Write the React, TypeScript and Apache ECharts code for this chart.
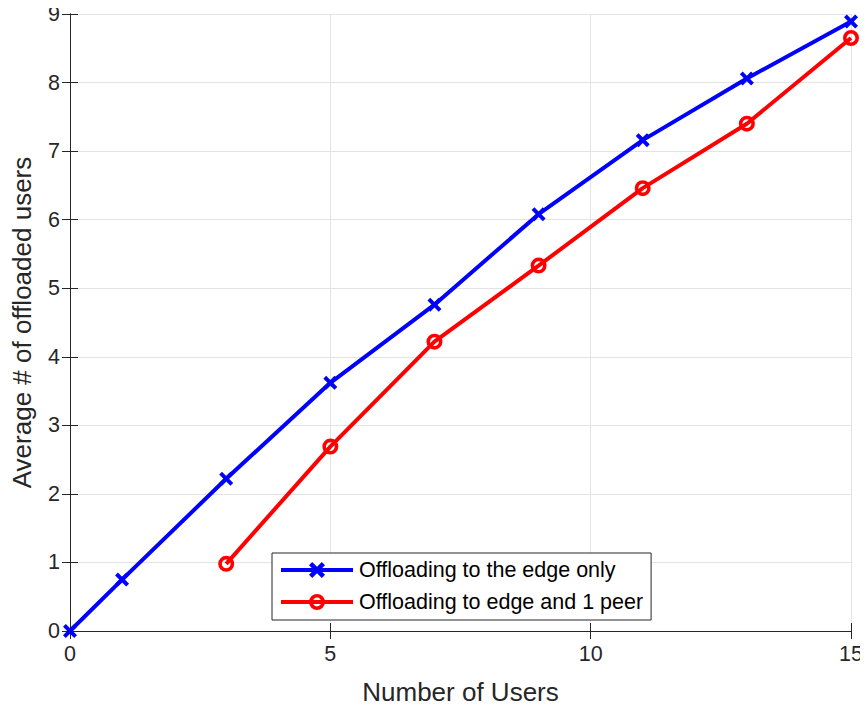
import React, { useEffect, useRef } from "react";
import * as echarts from "echarts";

const usersBlue = [0, 1, 3, 5, 7, 9, 11, 13, 15];
const edgeOnly = [0, 0.75, 2.22, 3.62, 4.76, 6.08, 7.16, 8.06, 8.89];
const usersRed = [3, 5, 7, 9, 11, 13, 15];
const edgePeer = [0.98, 2.69, 4.22, 5.33, 6.46, 7.4, 8.65];
const seriesNames = ["Offloading to the edge only", "Offloading to edge and 1 peer"];
const xTitle = "Number of Users";
const yTitle = "Average # of offloaded users";

const FONT = "'Liberation Sans', Arial, Helvetica, sans-serif";
const AXIS = "#262626";
const XMARK = "path://M0,2 L2,0 L5,3 L8,0 L10,2 L7,5 L10,8 L8,10 L5,7 L2,10 L0,8 L3,5 Z";
const RING =
  "path://M8,0 A8,8 0 1,1 8,16 A8,8 0 1,1 8,0 Z M8,3.6 A4.4,4.4 0 1,0 8,12.4 A4.4,4.4 0 1,0 8,3.6 Z";

export default function App() {
  const ref = useRef<HTMLDivElement>(null);
  useEffect(() => {
    if (!ref.current) return;
    const chart = echarts.init(ref.current, null, { renderer: "svg" });
    const tickStyle = { inside: true, length: 8, lineStyle: { color: AXIS, width: 1 } };
    chart.setOption({
      animation: false,
      backgroundColor: "#fff",
      textStyle: { fontFamily: FONT },
      grid: { left: 70, right: 17, top: 14, bottom: 79, show: false },
      legend: {
        orient: "vertical",
        left: 272,
        top: 553,
        padding: [6, 8, 7, 7],
        itemGap: 10,
        itemWidth: 72,
        itemHeight: 20,
        borderColor: AXIS,
        borderWidth: 1,
        borderRadius: 0,
        backgroundColor: "#fff",
        lineStyle: { width: 4 },
        textStyle: { fontSize: 21.5, color: "#000", fontFamily: FONT, padding: [0, 0, 0, 1] },
        data: seriesNames,
      },
      xAxis: [
        {
          type: "value",
          min: 0,
          max: 15,
          interval: 5,
          name: xTitle,
          nameLocation: "middle",
          nameGap: 48,
          nameTextStyle: { fontSize: 26, color: AXIS, fontFamily: FONT },
          axisLine: { lineStyle: { color: AXIS, width: 1 } },
          axisTick: tickStyle,
          axisLabel: { fontSize: 21.5, color: AXIS, margin: 12, fontFamily: FONT },
          splitLine: { show: true, lineStyle: { color: "#e3e3e3", width: 1 } },
        },
        {
          type: "value",
          position: "top",
          min: 0,
          max: 15,
          interval: 5,
          axisLine: { show: true, lineStyle: { color: AXIS, width: 1 } },
          axisTick: tickStyle,
          axisLabel: { show: false },
          splitLine: { show: false },
        },
      ],
      yAxis: [
        {
          type: "value",
          min: 0,
          max: 9,
          interval: 1,
          name: yTitle,
          nameLocation: "middle",
          nameGap: 35,
          nameTextStyle: { fontSize: 26, color: AXIS, fontFamily: FONT },
          axisLine: { show: true, lineStyle: { color: AXIS, width: 1 } },
          axisTick: tickStyle,
          axisLabel: { fontSize: 21.5, color: AXIS, margin: 10, fontFamily: FONT },
          splitLine: { show: true, lineStyle: { color: "#e3e3e3", width: 1 } },
        },
        {
          type: "value",
          position: "right",
          min: 0,
          max: 9,
          interval: 1,
          axisLine: { show: true, lineStyle: { color: AXIS, width: 1 } },
          axisTick: tickStyle,
          axisLabel: { show: false },
          splitLine: { show: false },
        },
      ],
      series: [
        {
          name: seriesNames[0],
          type: "line",
          data: usersBlue.map((x, i) => [x, edgeOnly[i]]),
          symbol: XMARK,
          symbolSize: 14,
          showAllSymbol: true,
          clip: false,
          lineStyle: { color: "#0000ff", width: 4 },
          itemStyle: { color: "#0000ff", borderWidth: 0 },
        },
        {
          name: seriesNames[1],
          type: "line",
          data: usersRed.map((x, i) => [x, edgePeer[i]]),
          symbol: RING,
          symbolSize: 16,
          showAllSymbol: true,
          clip: false,
          lineStyle: { color: "#ff0000", width: 4 },
          itemStyle: { color: "#ff0000", borderWidth: 0 },
        },
      ],
    });
    return () => chart.dispose();
  }, []);
  return <div ref={ref} style={{ width: 868, height: 710, margin: -8 }} />;
}
